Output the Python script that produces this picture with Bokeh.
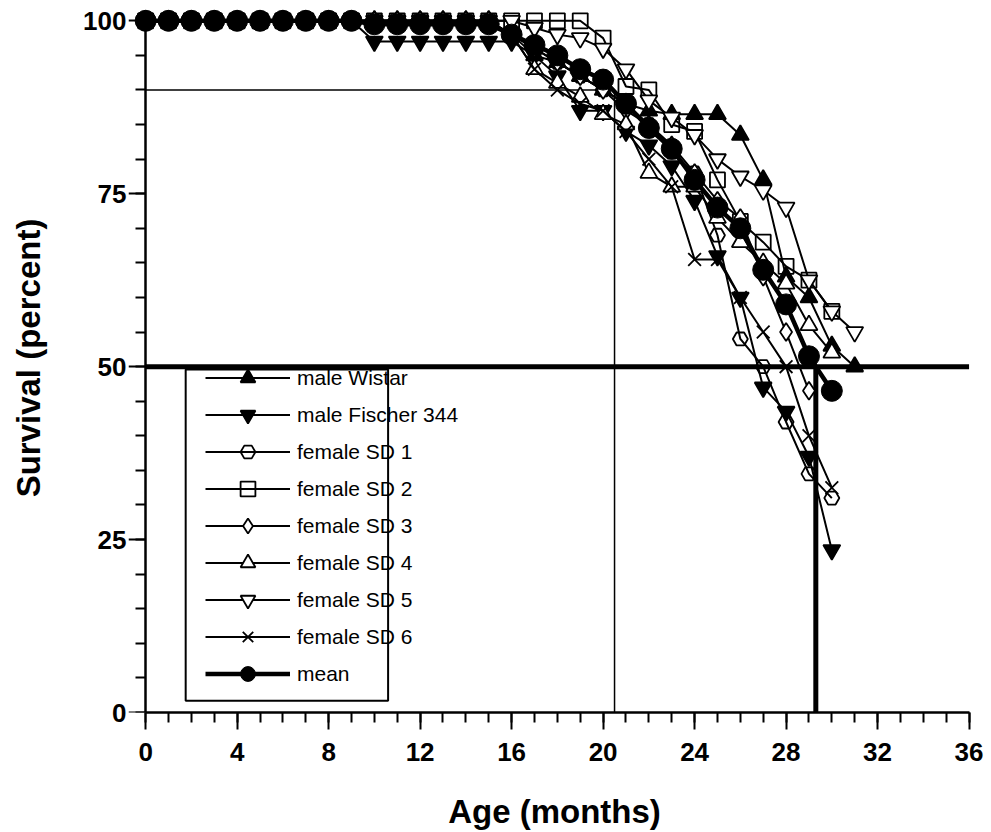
from bokeh.plotting import figure
from bokeh.models import (Range1d, SingleIntervalTicker, Legend, LegendItem,
                          BoxAnnotation, ColumnDataSource, LinearAxis)
from bokeh.embed import file_html
from bokeh.resources import INLINE

# ---------------- data ----------------
months_0_31 = [0, 1, 2, 3, 4, 5, 6, 7, 8, 9, 10, 11, 12, 13, 14, 15, 16, 17, 18, 19, 20,
               21, 22, 23, 24, 25, 26, 27, 28, 29, 30, 31]
months_0_30 = months_0_31[:31]
months_0_29 = months_0_31[:30]

male_wistar = [100, 100, 100, 100, 100, 100, 100, 100, 100, 100, 100, 100, 100, 100, 100, 100,
               98, 95, 94, 92, 90, 88, 87, 86.5, 86.5, 86.5, 83.5, 77, 63, 60, 53, 50]
male_fischer = [100, 100, 100, 100, 100, 100, 100, 100, 100, 100, 97, 97, 97, 97, 97, 97, 97,
                95, 92, 87, 87, 84, 82, 79, 74, 66, 60, 47, 43.5, 37, 23.5]
female_sd1 = [100, 100, 100, 100, 100, 100, 100, 100, 100, 100, 100, 100, 100, 100, 100, 100,
              98, 96, 94, 92, 90, 88, 85, 81, 78, 69, 54, 50, 42, 34.5, 31]
female_sd2 = [100, 100, 100, 100, 100, 100, 100, 100, 100, 100, 100, 100, 100, 100, 100, 100,
              100, 100, 100, 100, 97.5, 90.5, 90, 85, 84, 77, 71, 68, 64.5, 62.5, 58]
female_sd3 = [100, 100, 100, 100, 100, 100, 100, 100, 100, 100, 100, 100, 100, 100, 100, 100,
              98, 96, 94, 92, 90, 87, 85, 82, 78, 74, 71.5, 63, 55, 46.5]
female_sd4 = [100, 100, 100, 100, 100, 100, 100, 100, 100, 100, 100, 100, 100, 100, 100, 100,
              98, 93, 91, 89, 86.5, 85, 78, 76, 76, 71.5, 68, 65, 62, 56, 52]
female_sd5 = [100, 100, 100, 100, 100, 100, 100, 100, 100, 100, 100, 100, 100, 100, 100, 100,
              100, 99, 98, 97.5, 96, 93, 88.5, 86, 83.5, 80, 77.5, 75.5, 73, 62.5, 58, 55]
female_sd6 = [100, 100, 100, 100, 100, 100, 100, 100, 100, 100, 100, 100, 100, 100, 100, 100,
              98, 93, 90, 88, 87, 84, 80, 76, 65.5, 65.5, 60, 55, 50, 40, 32.5]
mean_surv = [100, 100, 100, 100, 100, 100, 100, 100, 100, 100, 99.5, 99.5, 99.5, 99.5, 99.5, 99.5,
             98, 96.5, 95, 93, 91.5, 88, 84.5, 81.5, 77, 73, 70, 64, 59, 51.5, 46.5]

labels = ["male Wistar", "male Fischer 344", "female SD 1", "female SD 2", "female SD 3",
          "female SD 4", "female SD 5", "female SD 6", "mean"]

# reference levels
p90_level = 90
p90_age = 20.5
median_level = 50
median_age = 29.3
age_max = 36

FONT = "Liberation Sans"

p = figure(frame_width=852, frame_height=709,
           x_range=Range1d(-0.75, 36.5), y_range=Range1d(0, 102.5),
           output_backend="svg", toolbar_location=None,
           x_axis_type=None, y_axis_type=None,
           min_border_left=128, min_border_right=11, min_border_top=3, min_border_bottom=120)
p.outline_line_color = None
p.background_fill_color = "white"
p.border_fill_color = "white"


def style_axis(ax):
    ax.axis_line_width = 2.5
    ax.axis_line_color = "black"
    ax.major_tick_line_width = 2
    ax.minor_tick_line_width = 2
    ax.major_tick_line_color = "black"
    ax.minor_tick_line_color = "black"
    ax.major_label_text_font = FONT
    ax.major_label_text_font_style = "bold"
    ax.major_label_text_font_size = "26px"
    ax.major_label_text_color = "black"
    ax.axis_label_text_font = FONT
    ax.axis_label_text_font_style = "bold"
    ax.axis_label_text_font_size = "33px"
    ax.axis_label_text_color = "black"


# x axis (at y = 0, bottom of the frame)
xaxis = LinearAxis(ticker=SingleIntervalTicker(interval=4, num_minor_ticks=4),
                   bounds=(0, age_max), axis_label="Age (months)")
style_axis(xaxis)
xaxis.major_tick_in = 0
xaxis.minor_tick_in = 0
xaxis.major_tick_out = 17
xaxis.minor_tick_out = 10
xaxis.major_label_standoff = 13
xaxis.axis_label_standoff = 29
p.add_layout(xaxis, "below")

# y axis labels and title (left panel, no line / ticks)
ylab = LinearAxis(ticker=SingleIntervalTicker(interval=25, num_minor_ticks=5),
                  bounds=(0, 100), axis_label="Survival (percent)")
style_axis(ylab)
ylab.axis_line_color = None
ylab.major_tick_line_color = None
ylab.minor_tick_line_color = None
ylab.major_tick_out = 0
ylab.minor_tick_out = 0
ylab.major_tick_in = 0
ylab.minor_tick_in = 0
ylab.major_label_standoff = 2
ylab.axis_label_standoff = 33
p.add_layout(ylab, "left")

# y axis line and ticks at x = 0 (ticks pointing left)
yline = LinearAxis(ticker=SingleIntervalTicker(interval=25, num_minor_ticks=5),
                   bounds=(0, 100), fixed_location=0)
style_axis(yline)
yline.major_label_text_alpha = 0
yline.major_label_text_font_size = "1px"
yline.major_tick_out = 0
yline.minor_tick_out = 0
yline.major_tick_in = 17
yline.minor_tick_in = 10
p.add_layout(yline, "right")

# reference lines
p.line([0, p90_age], [p90_level, p90_level], line_color="black", line_width=1.5)
p.line([p90_age, p90_age], [0, p90_level], line_color="black", line_width=1.5)
p.line([0, age_max], [median_level, median_level], line_color="black", line_width=5)
p.line([median_age, median_age], [0, median_level], line_color="black", line_width=5)

series = [
    (months_0_31, male_wistar, "triangle", 17, "black"),
    (months_0_30, male_fischer, "inverted_triangle", 17, "black"),
    (months_0_30, female_sd1, "hex", 15, None),
    (months_0_30, female_sd2, "square", 15, None),
    (months_0_29, female_sd3, "diamond", 18, "white"),
    (months_0_30, female_sd4, "triangle", 17, "white"),
    (months_0_31, female_sd5, "inverted_triangle", 17, "white"),
    (months_0_30, female_sd6, "x", 18, None),
]

items = []
for (xs, ys, marker, size, fill), lab in zip(series, labels[:-1]):
    src = ColumnDataSource(dict(x=xs, y=ys))
    rl = p.line("x", "y", source=src, line_color="black", line_width=2)
    rm = p.scatter("x", "y", source=src, marker=marker, size=size, line_color="black",
                   line_width=1.8, fill_color=fill)
    items.append(LegendItem(label=lab, renderers=[rl, rm]))

msrc = ColumnDataSource(dict(x=months_0_30, y=mean_surv))
ml = p.line("x", "y", source=msrc, line_color="black", line_width=4.5)
mm = p.scatter("x", "y", source=msrc, marker="circle", size=21, line_color="black",
               fill_color="black")
items.append(LegendItem(label=labels[-1], renderers=[ml, mm]))

# legend frame (drawn box) and legend
box = BoxAnnotation(left=1.75, right=10.6, top=49.6, bottom=1.7, fill_alpha=0,
                    line_color="black", line_width=2, line_alpha=1)
p.add_layout(box)

legend = Legend(items=items, location=(77, 20), glyph_width=85, glyph_height=37,
                label_height=37, spacing=0, padding=0, margin=0, label_standoff=7,
                border_line_color=None, background_fill_alpha=0,
                label_text_font=FONT, label_text_font_size="21px",
                label_text_color="black")
p.add_layout(legend)

open("out.html", "w").write(file_html(p, INLINE))
